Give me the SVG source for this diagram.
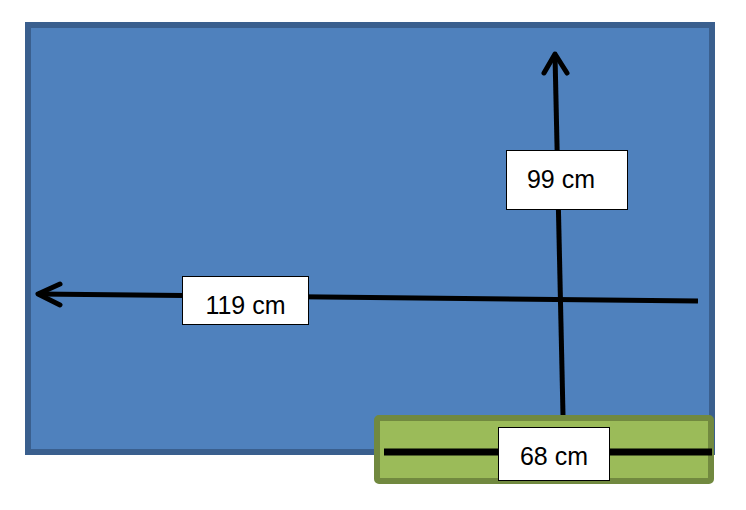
<svg xmlns="http://www.w3.org/2000/svg" width="746" height="510" viewBox="0 0 746 510">
<style>
.lbl{fill:#fff;stroke:#000;stroke-width:1}
.txt{font-family:"Liberation Sans",Arial,sans-serif;font-size:25px;fill:#000;text-anchor:middle}
.ln{stroke:#000;stroke-width:5;fill:none;stroke-linecap:butt}
.ah{stroke:#000;stroke-width:5;fill:none;stroke-linecap:round;stroke-linejoin:round}
</style>
<rect width="746" height="510" fill="#fff"/>
<g id="table">
<rect x="28" y="25" width="684" height="427" fill="#4F81BD" stroke="#3A5F8E" stroke-width="6"/>
</g>
<g id="board">
<rect x="377" y="418" width="334" height="63" rx="2" fill="#9BBB59" stroke="#71893F" stroke-width="6"/>
</g>
<g id="connectors">
<path class="ln" d="M38,294 L698,301"/>
<path class="ah" d="M60,284 L38,294 L60,305"/>
<path class="ln" d="M555,55 L563,415"/>
<path class="ah" d="M544,73 L555,54 L567,73"/>
<path class="ln" d="M384,452 L712,452" style="stroke-width:7"/>
</g>
<g id="label-99">
<rect class="lbl" x="506.500" y="150.500" width="121" height="59"/>
<text class="txt" x="561" y="188">99 cm</text>
</g>
<g id="label-119">
<rect class="lbl" x="182.500" y="276.500" width="126" height="48"/>
<text class="txt" x="245.500" y="314">119 cm</text>
</g>
<g id="label-68">
<rect class="lbl" x="498.500" y="427.500" width="111" height="53"/>
<text class="txt" x="554" y="465">68 cm</text>
</g>
</svg>
